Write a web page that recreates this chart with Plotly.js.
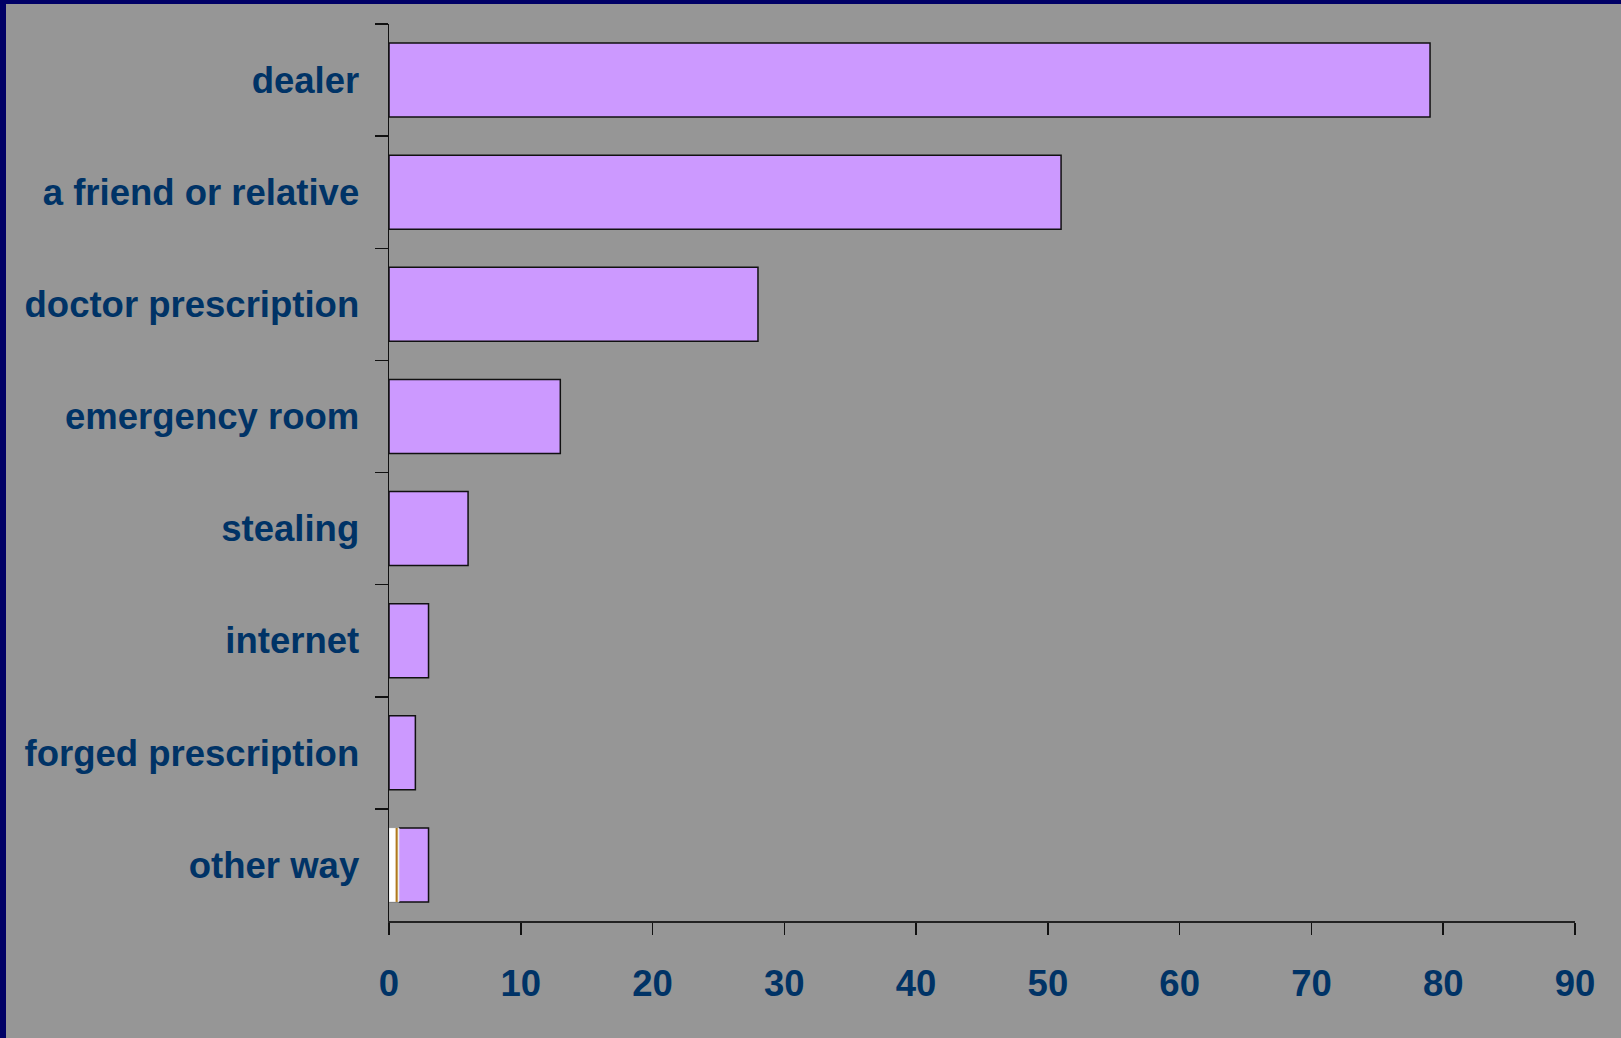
<!DOCTYPE html>
<html>
<head>
<meta charset="utf-8">
<script src="https://cdn.plot.ly/plotly-3.0.1.min.js"></script>
<style>
  html, body { margin: 0; padding: 0; background: #000066; width: 1621px; height: 1038px; overflow: hidden; }
  #chart { position: absolute; left: 6px; top: 4px; width: 1615px; height: 1034px; }
</style>
</head>
<body>
<div id="chart"></div>
<script>
const categories = ["dealer", "a friend or relative", "doctor prescription", "emergency room",
                    "stealing", "internet", "forged prescription", "other way"];
const values = [79, 51, 28, 13, 6, 3, 2, 3];
const artifactCategory = ["other way"];
const artifactWhite = [0.75];
const artifactStripeBase = [0.5];
const artifactStripe = [0.16];
const xTicks = [0, 10, 20, 30, 40, 50, 60, 70, 80, 90];

const fontFam = '"Liberation Sans", Arial, sans-serif';
const txtColor = '#003366';

const traces = [
  {
    type: 'bar', orientation: 'h',
    y: categories, x: values,
    marker: { color: '#cc99ff', line: { color: '#111111', width: 1.5 } },
    hoverinfo: 'x+y'
  },
  {
    type: 'bar', orientation: 'h',
    y: artifactCategory, x: artifactWhite,
    marker: { color: '#ffffff', line: { color: '#e8e8e8', width: 1 } },
    hoverinfo: 'skip'
  },
  {
    type: 'bar', orientation: 'h',
    y: artifactCategory, x: artifactStripe, base: artifactStripeBase,
    marker: { color: '#b07a1e', line: { width: 0 } },
    hoverinfo: 'skip'
  }
];

const layout = {
  width: 1615, height: 1034,
  margin: { l: 383, r: 46, t: 20, b: 117 },
  paper_bgcolor: '#969696',
  plot_bgcolor: '#969696',
  showlegend: false,
  barmode: 'overlay',
  bargap: 0.34,
  font: { family: fontFam, color: txtColor, size: 36.5, weight: 'bold' },
  xaxis: {
    range: [0, 90],
    tickvals: xTicks,
    ticktext: xTicks.map(String),
    ticks: 'outside', ticklen: 12, tickwidth: 1.5, tickcolor: '#111111',
    showline: true, linecolor: '#222222', linewidth: 1.5,
    showgrid: false, zeroline: false,
    ticklabelstandoff: 18,
    tickfont: { family: fontFam, size: 36.5, color: txtColor, weight: 'bold' }
  },
  yaxis: {
    type: 'category',
    categoryorder: 'array', categoryarray: categories,
    autorange: 'reversed',
    tickson: 'boundaries',
    ticks: 'outside', ticklen: 13, tickwidth: 1.5, tickcolor: '#111111',
    showline: true, linecolor: '#111111', linewidth: 1.5,
    showgrid: false, zeroline: false,
    ticklabelstandoff: 21,
    tickfont: { family: fontFam, size: 36.5, color: txtColor, weight: 'bold' }
  }
};

Plotly.newPlot('chart', traces, layout, { displayModeBar: false, staticPlot: true });
</script>
</body>
</html>
